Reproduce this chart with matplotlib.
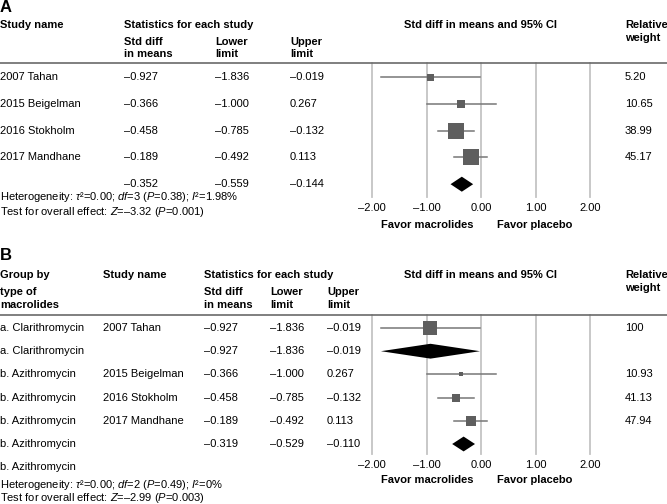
# Forest plots: macrolides vs placebo, overall (A) and by macrolide type (B)
import matplotlib.pyplot as plt
from matplotlib.lines import Line2D
from matplotlib.transforms import blended_transform_factory

plt.rcParams['font.family'] = ['Liberation Sans', 'DejaVu Sans']
plt.rcParams['font.size'] = 8
plt.rcParams['mathtext.fontset'] = 'custom'
plt.rcParams['mathtext.rm'] = 'Liberation Sans'
plt.rcParams['mathtext.it'] = 'Liberation Sans:italic'
plt.rcParams['mathtext.bf'] = 'Liberation Sans:bold'

# ---- data, panel A ----
studies_a = ["2007 Tahan", "2015 Beigelman", "2016 Stokholm", "2017 Mandhane"]
est_a = [-0.927, -0.366, -0.458, -0.189]
low_a = [-1.836, -1.000, -0.785, -0.492]
upp_a = [-0.019, 0.267, -0.132, 0.113]
weight_a = [5.20, 10.65, 38.99, 45.17]
pooled_a = [-0.352, -0.559, -0.144]
het_a = r"Heterogeneity: $\tau$²=0.00; $df$=3 ($P$=0.38); $I$²=1.98%"
test_a = r"Test for overall effect: $Z$=–3.32 ($P$=0.001)"

# ---- data, panel B ----
group_b = ["a. Clarithromycin", "a. Clarithromycin", "b. Azithromycin", "b. Azithromycin",
           "b. Azithromycin", "b. Azithromycin", "b. Azithromycin"]
study_b = ["2007 Tahan", "", "2015 Beigelman", "2016 Stokholm", "2017 Mandhane", "", ""]
est_b = [-0.927, -0.927, -0.366, -0.458, -0.189, -0.319, None]
low_b = [-1.836, -1.836, -1.000, -0.785, -0.492, -0.529, None]
upp_b = [-0.019, -0.019, 0.267, -0.132, 0.113, -0.110, None]
weight_b = [100, None, 10.93, 41.13, 47.94, None, None]
het_b = r"Heterogeneity: $\tau$²=0.00; $df$=2 ($P$=0.49); $I$²=0%"
test_b = r"Test for overall effect: $Z$=–2.99 ($P$=0.003)"

ticks = [-2, -1, 0, 1, 2]
tick_labels = ["–2.00", "–1.00", "0.00", "1.00", "2.00"]

W, H = 667, 504


def fx(x):
    return x / W


def fy(y):
    return 1 - y / H


def fmt(v):
    return f"{v:.3f}".replace("-", "–")


def fmt_w(v):
    return f"{v:g}" if v == int(v) else f"{v:.2f}"


fig = plt.figure(figsize=(W / 100, H / 100), dpi=100)


def forest_axes(top, bottom, row0, step):
    ax = fig.add_axes([fx(372), fy(bottom), (590 - 372) / W, (bottom - top) / H])
    ax.set_xlim(-2, 2)
    ax.set_ylim((bottom - row0) / step, (top - row0) / step)
    for s in ax.spines.values():
        s.set_visible(False)
    ax.set_yticks([])
    ax.set_xticks(ticks)
    ax.set_xticklabels(tick_labels)
    ax.tick_params(axis='x', length=0, pad=4)
    for t in ticks:
        ax.axvline(t, color='#c4c4c4', lw=1.3, zorder=0, clip_on=False)
    fig.add_artist(Line2D([0, 1], [fy(top), fy(top)], color='#6a6a6a', lw=1.2))
    return ax


def study_mark(ax, i, e, lo, hi, side):
    ax.plot([lo, hi], [i, i], color='#777777', lw=1.1, zorder=2)
    ax.plot(e, i, marker='s', ms=side * 0.72, color='#5e5e5e', mew=0, zorder=3)


def diamond(ax, i, e, lo, hi, h):
    ax.fill([lo, e, hi, e], [i, i - h, i, i + h], color='black', lw=0, zorder=3)


def head(x, y, s, **kw):
    fig.text(fx(x), fy(y), s, va='center', fontweight='bold', **kw)


# ================= Panel A =================
ax_a = forest_axes(63, 197, 77, 26.8)
tr_a = blended_transform_factory(fig.transFigure, ax_a.transData)

fig.text(fx(0), fy(7), "A", va='center', fontweight='bold', fontsize=12)
head(0, 25, "Study name")
head(124, 25, "Statistics for each study")
head(124, 42, "Std diff")
head(124, 54, "in means")
head(215, 42, "Lower")
head(215, 54, "limit")
head(290, 42, "Upper")
head(290, 54, "limit")
head(481, 25, "Std diff in means and 95% CI", ha='center')
head(625, 25, "Relative")
head(625, 38, "weight")

for i, name in enumerate(studies_a):
    ax_a.text(fx(0), i, name, transform=tr_a, va='center')
    ax_a.text(fx(124), i, fmt(est_a[i]), transform=tr_a, va='center')
    ax_a.text(fx(215), i, fmt(low_a[i]), transform=tr_a, va='center')
    ax_a.text(fx(290), i, fmt(upp_a[i]), transform=tr_a, va='center')
    ax_a.text(fx(625), i, f"{weight_a[i]:.2f}", transform=tr_a, va='center')
    side = max(7, 2.45 * weight_a[i] ** 0.5)
    study_mark(ax_a, i, est_a[i], low_a[i], upp_a[i], side)

k = len(studies_a)
ax_a.text(fx(124), k, fmt(pooled_a[0]), transform=tr_a, va='center')
ax_a.text(fx(215), k, fmt(pooled_a[1]), transform=tr_a, va='center')
ax_a.text(fx(290), k, fmt(pooled_a[2]), transform=tr_a, va='center')
diamond(ax_a, k, pooled_a[0], pooled_a[1], pooled_a[2], 0.28)

fig.text(fx(0), fy(197.5), het_a, va='center')
fig.text(fx(0), fy(211.5), test_a, va='center')
head(427, 224.5, "Favor macrolides", ha='center')
head(535, 224.5, "Favor placebo", ha='center')

# ================= Panel B =================
ax_b = forest_axes(315, 454, 328, 23.2)
tr_b = blended_transform_factory(fig.transFigure, ax_b.transData)

fig.text(fx(0), fy(255), "B", va='center', fontweight='bold', fontsize=12)
head(0, 275, "Group by")
head(0, 292, "type of")
head(0, 305, "macrolides")
head(103, 275, "Study name")
head(204, 275, "Statistics for each study")
head(204, 292, "Std diff")
head(204, 305, "in means")
head(270, 292, "Lower")
head(270, 305, "limit")
head(327, 292, "Upper")
head(327, 305, "limit")
head(481, 275, "Std diff in means and 95% CI", ha='center')
head(625, 275, "Relative")
head(625, 288, "weight")

for i, grp in enumerate(group_b):
    ax_b.text(fx(0), i, grp, transform=tr_b, va='center')
    ax_b.text(fx(103), i, study_b[i], transform=tr_b, va='center')
    if est_b[i] is None:
        continue
    ax_b.text(fx(204), i, fmt(est_b[i]), transform=tr_b, va='center')
    ax_b.text(fx(270), i, fmt(low_b[i]), transform=tr_b, va='center')
    ax_b.text(fx(327), i, fmt(upp_b[i]), transform=tr_b, va='center')
    if weight_b[i] is not None:
        ax_b.text(fx(625), i, fmt_w(weight_b[i]), transform=tr_b, va='center')
        study_mark(ax_b, i, est_b[i], low_b[i], upp_b[i], 1.4 * weight_b[i] ** 0.5)
    else:
        diamond(ax_b, i, est_b[i], low_b[i], upp_b[i], 0.32)

fig.text(fx(0), fy(484.5), het_b, va='center')
fig.text(fx(0), fy(498), test_b, va='center')
head(427, 480, "Favor macrolides", ha='center')
head(535, 480, "Favor placebo", ha='center')

plt.savefig("out.png", dpi=100)
